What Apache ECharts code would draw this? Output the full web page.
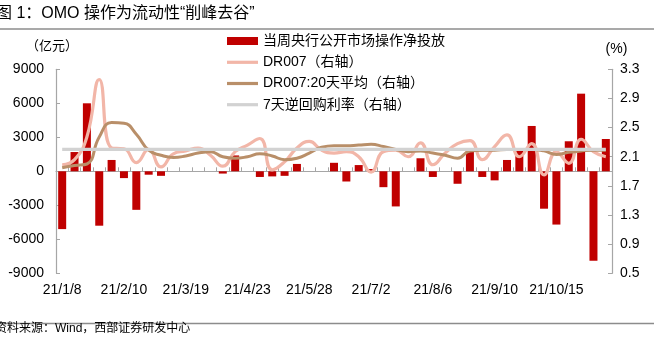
<!DOCTYPE html>
<html><head><meta charset="utf-8">
<script src="https://cdn.jsdelivr.net/npm/echarts@6/dist/echarts.min.js"></script>
<style>html,body{margin:0;padding:0;background:#fff}#c{width:654px;height:355px}</style>
</head><body><div id="c"></div>
<script>
const categories = ['21/1/8','21/1/15','21/1/22','21/1/29','21/2/5','21/2/10','21/2/19','21/2/26','21/3/5','21/3/12',
  '21/3/19','21/3/26','21/4/2','21/4/9','21/4/16','21/4/23','21/4/30','21/5/7','21/5/14','21/5/21',
  '21/5/28','21/6/4','21/6/11','21/6/18','21/6/25','21/7/2','21/7/9','21/7/16','21/7/23','21/7/30',
  '21/8/6','21/8/13','21/8/20','21/8/27','21/9/3','21/9/10','21/9/17','21/9/24','21/9/30','21/10/8',
  '21/10/15','21/10/22','21/10/29','21/11/5','21/11/12'];
const omoNet = [-5100,1700,6000,-4800,1000,-600,-3400,-300,-400,0,
  0,0,0,-200,1400,0,-500,-450,-400,650,
  0,0,750,-900,550,200,-1400,-3100,0,1150,
  -500,0,-1100,1900,-500,-800,1000,1850,4000,-3300,
  -4700,2650,6850,-7900,2850];
const dr007 = [1.99,2.06,2.37,3.16,2.22,2.21,2.02,2.20,1.96,2.14,
  2.18,2.22,2.12,1.97,2.17,2.26,2.35,1.92,2.03,2.22,
  2.31,2.19,2.15,2.17,2.10,1.89,2.17,2.19,2.10,2.29,
  1.99,2.15,2.28,2.32,2.06,2.24,2.40,2.10,2.28,1.85,
  2.17,2.01,2.34,2.17,2.10];
const dr007Avg20 = [1.95,1.98,2.00,2.37,2.57,2.56,2.41,2.19,2.12,2.09,
  2.11,2.15,2.17,2.10,2.08,2.10,2.14,2.11,2.06,2.08,
  2.15,2.23,2.25,2.25,2.26,2.27,2.24,2.20,2.17,2.18,
  2.15,2.12,2.08,2.18,2.19,2.19,2.20,2.20,2.20,2.18,
  2.13,2.16,2.18,2.19,2.19];
const repo7d = [2.2,2.2,2.2,2.2,2.2,2.2,2.2,2.2,2.2,2.2,
  2.2,2.2,2.2,2.2,2.2,2.2,2.2,2.2,2.2,2.2,
  2.2,2.2,2.2,2.2,2.2,2.2,2.2,2.2,2.2,2.2,
  2.2,2.2,2.2,2.2,2.2,2.2,2.2,2.2,2.2,2.2,
  2.2,2.2,2.2,2.2,2.2];
const leftTicks = [-9000,-6000,-3000,0,3000,6000,9000];
const rightTicks = [0.5,0.9,1.3,1.7,2.1,2.5,2.9,3.3];
const seriesNames = ['当周央行公开市场操作净投放','DR007（右轴）','DR007:20天平均（右轴）','7天逆回购利率（右轴）'];
const titleText = '图 1：OMO 操作为流动性“削峰去谷”';
const sourceText = '资料来源：Wind，西部证券研发中心';

const FF = "'Liberation Sans', 'Noto Sans CJK SC', sans-serif";
const axisGray = '#a6a6a6';
const legendText = {fontSize: 14, color: '#000', fontFamily: FF};
const chart = echarts.init(document.getElementById('c'));
chart.setOption({
  animation: false,
  textStyle: {fontFamily: FF},
  grid: {left: 56, right: 42, top: 69.3, bottom: 81.7, containLabel: false},
  legend: [
    {orient: 'vertical', left: 227, top: 34, padding: 0, itemWidth: 31, itemHeight: 8, itemGap: 7,
     textStyle: legendText, itemStyle: {borderWidth: 0},
     data: [{name: seriesNames[0], icon: 'rect'}]},
    {orient: 'vertical', left: 227, top: 55.3, padding: 0, itemWidth: 31, itemHeight: 3.2, itemGap: 7.2,
     textStyle: legendText, itemStyle: {borderWidth: 0},
     data: [{name: seriesNames[1], icon: 'rect'}, {name: seriesNames[2], icon: 'rect'}, {name: seriesNames[3], icon: 'rect'}]}
  ],
  xAxis: [
    {type: 'category', data: categories, position: 'bottom', boundaryGap: true,
     axisLine: {onZero: true, onZeroAxisIndex: 0, lineStyle: {color: axisGray, width: 1.2}},
     axisTick: {show: true, inside: true, interval: 0, length: 4, lineStyle: {color: axisGray}},
     axisLabel: {show: false}, splitLine: {show: false}},
    {type: 'category', data: categories, position: 'bottom', boundaryGap: true,
     axisLine: {show: false}, axisTick: {show: false},
     axisLabel: {show: true, interval: 4, margin: 10, fontSize: 14, color: '#000', fontFamily: FF},
     splitLine: {show: false}}
  ],
  yAxis: [
    {type: 'value', min: leftTicks[0], max: leftTicks[leftTicks.length-1], interval: 3000, position: 'left',
     name: '（亿元）', nameLocation: 'end', nameGap: 16,
     nameTextStyle: {fontSize: 13, color: '#000', fontFamily: FF, padding: [0, 8, 0, 0]},
     axisLine: {show: true, lineStyle: {color: axisGray, width: 1.2}},
     axisTick: {show: true, inside: true, length: 4, lineStyle: {color: axisGray}},
     axisLabel: {margin: 12, fontSize: 14, color: '#000', fontFamily: FF, formatter: v => String(v)},
     splitLine: {show: false}},
    {type: 'value', min: rightTicks[0], max: rightTicks[rightTicks.length-1], position: 'right',
     name: '(%)', nameLocation: 'end', nameGap: 13,
     nameTextStyle: {fontSize: 14, color: '#000', fontFamily: FF, padding: [0, 0, 0, 9]},
     axisLine: {show: true, lineStyle: {color: axisGray, width: 1.2}},
     axisTick: {show: true, inside: true, length: 4, customValues: rightTicks, lineStyle: {color: axisGray}},
     axisLabel: {margin: 8, fontSize: 14, color: '#000', fontFamily: FF, customValues: rightTicks,
       formatter: v => Number(v).toFixed(1)},
     splitLine: {show: false}}
  ],
  series: [
    {name: seriesNames[0], type: 'bar', xAxisIndex: 0, yAxisIndex: 0, data: omoNet, barWidth: 8,
     itemStyle: {color: '#C00000'}},
    {name: seriesNames[1], type: 'line', xAxisIndex: 0, yAxisIndex: 1, data: dr007, smooth: 0.5,
     symbol: 'none', lineStyle: {color: '#F2B6A8', width: 3.2}, itemStyle: {color: '#F2B6A8'}},
    {name: seriesNames[2], type: 'line', xAxisIndex: 0, yAxisIndex: 1, data: dr007Avg20, smooth: 0.5,
     symbol: 'none', lineStyle: {color: '#B98F69', width: 3}, itemStyle: {color: '#B98F69'}},
    {name: seriesNames[3], type: 'line', xAxisIndex: 0, yAxisIndex: 1, data: repo7d, smooth: false,
     symbol: 'none', lineStyle: {color: '#D2D2D2', width: 3.2}, itemStyle: {color: '#D2D2D2'}}
  ],
  graphic: [
    {type: 'text', left: -4, top: 6, style: {text: titleText, font: "16px 'Liberation Sans', 'Noto Sans CJK SC', sans-serif", fill: '#000'}},
    {type: 'line', shape: {x1: 0, y1: 29, x2: 654, y2: 29}, style: {stroke: '#8c8c8c', lineWidth: 1.5}},
    {type: 'line', shape: {x1: 0, y1: 323.5, x2: 654, y2: 323.5}, style: {stroke: '#8c8c8c', lineWidth: 1.5}},
    {type: 'text', left: -5, top: 323, style: {text: sourceText, font: "12px 'Liberation Sans', 'Noto Sans CJK SC', sans-serif", fill: '#000'}}
  ]
});
</script></body></html>
